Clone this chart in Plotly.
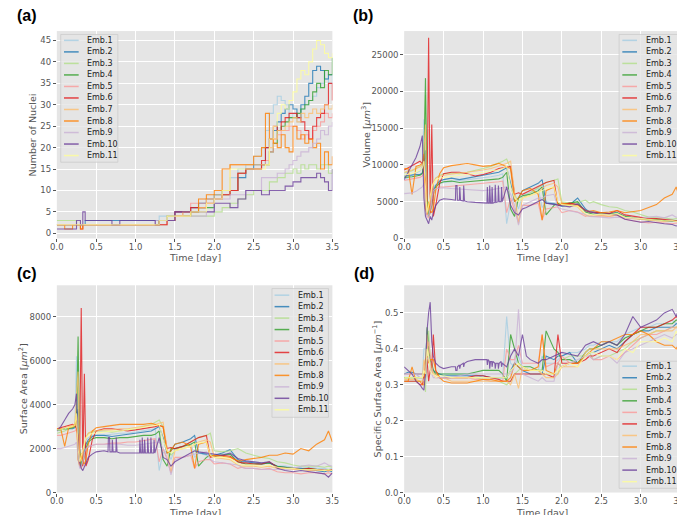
import plotly.graph_objects as go

NAMES = ["Emb.1", "Emb.2", "Emb.3", "Emb.4", "Emb.5", "Emb.6", "Emb.7", "Emb.8", "Emb.9", "Emb.10", "Emb.11"]
COLORS = ['#a6cee3', '#1f78b4', '#b2df8a', '#33a02c', '#fb9a99', '#e31a1c',
          '#fdbf6f', '#ff7f00', '#cab2d6', '#6a3d9a', '#ffff99']

# ---- (a) number of nuclei ----
NUC_T = [0, 0.1, 0.2, 0.25, 0.3, 0.33, 0.36, 0.4, 0.6, 0.7, 0.8, 1.0, 1.2, 1.25, 1.3, 1.4, 1.5, 1.6, 1.7, 1.8,
         1.9, 2.0, 2.1, 2.2, 2.3, 2.4, 2.5, 2.6, 2.65, 2.7, 2.75, 2.8, 2.85, 2.9, 2.95, 3.0, 3.05, 3.1, 3.15,
         3.2, 3.25, 3.3, 3.35, 3.4, 3.45, 3.5]
NUC = [
    [2,2,2,2,2, 2,2,2,2,2, 2,2,2,2,4, 4,4,5,6,7, 8,9,10,13,15, 16,18,20,24,28, 30,32,31,30,27, 28,26,29,30,31, 32,34,35,36,35, 37],
    [2,2,2,2,2, 2,3,3,3,3, 3,3,3,3,3, 4,5,5,6,7, 8,9,10,10,13, 15,16,16,20,22, 24,26,28,29,30, 29,27,30,32,35, 38,39,38,36,37, 37],
    [3,3,3,2,2, 2,2,2,2,2, 2,2,2,2,2, 3,4,4,4,4, 4,5,6,7,8, 9,10,10,10,12, 12,13,13,14,14, 15,14,16,15,16, 16,15,16,16,14, 15],
    [2,2,2,2,2, 2,2,2,2,2, 2,2,2,2,3, 3,4,4,5,6, 6,8,9,10,14, 15,15,16,16,19, 21,24,25,26,27, 27,28,29,30,31, 33,35,34,38,37, 41],
    [2,2,2,2,2, 2,2,2,2,2, 2,2,2,2,2, 3,4,5,7,7, 8,8,9,10,14, 15,15,16,17,19, 22,23,24,24,25, 25,24,22,23,22, 24,25,26,28,27, 28],
    [2,2,2,2,1, 2,2,2,2,2, 2,2,2,2,2, 3,5,5,6,6, 7,8,9,10,14, 15,15,17,20,22, 25,24,26,27,28, 28,27,26,24,22, 25,27,28,30,35, 31],
    [2,2,2,2,2, 2,2,2,2,2, 2,2,2,2,3, 4,4,5,5,6, 8,9,10,16,16, 16,16,16,16,20, 22,24,24,25,26, 27,26,28,27,28, 29,28,29,30,29, 30],
    [2,1,2,2,1, 2,2,2,2,2, 2,2,2,2,3, 3,4,4,5,8, 9,10,15,16,16, 16,18,20,28,22, 21,20,23,20,19, 25,22,23,21,22, 20,21,15,19,16, 18],
    [2,2,2,2,2, 2,2,2,2,2, 2,2,2,3,3, 3,4,4,4,4, 5,8,8,9,9, 10,10,13,13,13, 13,14,14,15,16, 17,18,19,19,20, 21,22,24,23,25, 26],
    [1,1,1,3,2, 5,3,3,3,2, 3,3,3,2,3, 3,5,5,5,5, 5,7,7,6,8, 10,10,9,9,10, 10,10,10,11,11, 12,12,13,13,13, 13,14,13,12,10, 15],
    [2,2,2,2,2, 2,2,2,2,2, 2,2,2,2,3, 4,4,4,5,5, 7,8,10,15,15, 15,15,15,16,22, 25,28,30,29,31, 33,36,38,37,40, 43,45,44,42,41, 42],
]

# ---- shared time grid for (b), (c), (d) ----
GRID_T = [0, 0.05, 0.1, 0.15, 0.2, 0.23, 0.25, 0.27, 0.29, 0.31, 0.33, 0.35, 0.37, 0.4, 0.45, 0.5, 0.6, 0.7,
          0.8, 0.9, 1.0, 1.1, 1.2, 1.25, 1.3, 1.35, 1.4, 1.45, 1.5, 1.6, 1.7, 1.75, 1.8, 1.9, 1.95, 2.0, 2.1,
          2.2, 2.3, 2.35, 2.4, 2.5, 2.6, 2.7, 2.8, 2.9, 3.0, 3.1, 3.2, 3.3, 3.4, 3.45, 3.5]
# Emb.10 has its own, denser time grid
EMB10_T = [0, 0.05, 0.1, 0.15, 0.2, 0.23, 0.25, 0.27, 0.29, 0.31, 0.33, 0.35, 0.37, 0.4, 0.45, 0.5, 0.6, 0.65,
           0.655, 0.67, 0.675, 0.7, 0.705, 0.715, 0.75, 0.755, 0.765, 0.8, 0.9, 1.0, 1.05, 1.055, 1.065, 1.08,
           1.085, 1.095, 1.11, 1.115, 1.125, 1.15, 1.155, 1.165, 1.19, 1.195, 1.205, 1.23, 1.235, 1.245, 1.3,
           1.35, 1.4, 1.45, 1.5, 1.55, 1.6, 1.7, 1.75, 1.8, 1.9, 2.0, 2.1, 2.2, 2.3, 2.4, 2.5, 2.6, 2.7, 2.8,
           2.9, 3.0, 3.1, 3.2, 3.3, 3.4, 3.45, 3.5]

# ---- (b) volume, in thousands of um^3 ----
VOL_K = [
    [8.0,8.3,8.6,8.8,9.2, 9.8,16.2,4.0,3.5,4.5, 5.5,6.5,7.0,7.3,7.5, 7.6,7.8,7.9,8.0,8.1, 8.3,8.4,8.6,8.8,2.0, 5.0,5.5,4.0,5.8,6.3, 6.8,4.2,5.0,4.8,4.5, 4.4,4.6,4.8,3.5,3.8, 3.6,3.5,3.4,3.6,3.0, 2.9,2.7,2.6,2.7,2.5, 2.6,2.4,2.5],
    [8.5,8.6,8.6,8.7,8.7, 8.9,10.0,12.0,4.5,3.5, 4.0,5.5,6.5,7.2,7.8, 8.0,8.2,8.0,8.2,8.4, 8.6,8.8,9.0,9.3,9.6, 7.5,5.0,5.5,6.5,7.0, 7.5,8.0,4.8,4.7,4.5, 4.4,4.6,5.5,4.0,3.6, 3.6,3.5,3.4,3.5,3.0, 2.8,2.7,2.6,2.5,2.4, 2.3,2.4,2.2],
    [8.9,9.0,9.2,9.5,9.8, 10.0,11.0,19.5,5.0,3.2, 4.5,6.5,7.5,8.2,8.6, 8.8,8.9,8.8,9.0,9.2, 9.5,9.8,10.2,10.5,10.8, 9.5,6.0,5.0,5.5,6.2, 6.8,7.2,7.6,7.9,8.1, 5.0,4.8,4.9,5.2,4.8, 5.0,4.6,4.3,4.2,3.8, 3.6,3.2,2.9,2.8,2.8, 2.6,2.7,2.6],
    [8.3,8.3,8.4,8.5,8.6, 8.8,10.0,21.8,6.0,3.0, 3.5,4.5,6.0,7.0,7.5, 7.7,7.8,7.6,7.7,7.8, 7.9,8.0,8.1,8.3,9.0, 4.0,3.0,5.5,5.8,6.0, 6.5,7.0,3.2,4.5,4.8, 4.6,4.8,5.0,3.6,3.5, 3.3,3.4,3.3,3.5,3.0, 2.8,2.6,2.5,2.6,2.4, 2.4,2.3,2.3],
    [7.9,8.0,8.1,8.2,8.3, 8.5,9.0,6.0,3.0,2.8, 3.5,5.0,6.0,6.7,7.0, 7.0,7.1,7.2,7.2,7.3, 7.4,7.5,7.7,7.8,3.5, 5.5,4.0,2.2,4.5,4.5, 4.8,2.5,4.0,4.2,4.3, 3.5,3.8,3.6,3.0,3.2, 3.0,3.1,3.0,3.2,2.6, 2.4,2.2,2.1,2.2,2.1, 2.0,2.1,2.0],
    [9.3,9.6,10.0,10.2,10.5, 10.2,9.0,8.0,5.0,27.3, 3.5,15.5,3.0,4.5,7.5, 8.8,9.0,9.0,8.8,8.5, 8.7,9.0,9.5,9.6,9.8, 9.8,6.0,6.2,6.0,6.5, 7.0,7.3,7.6,7.9,4.5, 4.6,4.8,4.6,3.8,3.6, 3.6,3.5,3.4,3.8,3.2, 3.0,2.9,2.7,2.7,2.6, 2.5,2.4,2.6],
    [9.0,9.1,9.3,9.5,9.7, 10.0,12.0,15.5,3.2,4.0, 5.0,6.5,7.5,8.2,8.5, 8.6,8.8,8.9,9.0,9.1, 9.3,9.5,9.8,10.0,10.2, 10.5,6.0,2.0,5.5,5.8, 6.2,6.8,7.2,7.5,7.0, 4.6,4.4,4.3,3.2,3.0, 3.0,3.1,3.0,3.2,2.8, 2.7,2.5,2.5,2.4,2.3, 2.4,2.3,2.3],
    [9.5,9.5,6.0,9.8,10.0, 10.2,11.5,4.0,3.2,5.0, 3.8,3.5,4.0,6.5,8.8, 9.6,9.9,10.1,10.2,10.0, 9.8,9.9,10.2,10.0,9.8, 9.5,5.0,5.5,6.5,6.8, 6.0,2.5,6.5,7.0,4.5, 4.8,4.6,4.5,3.8,3.7, 3.8,3.5,3.6,3.8,3.5, 3.7,3.8,4.2,4.6,5.5, 6.0,7.0,5.3],
    [6.1,6.1,6.2,6.4,6.8, 7.0,7.5,5.0,3.0,3.2, 4.0,5.5,6.5,6.8,6.9, 6.9,6.8,6.7,6.6,6.5, 6.5,6.6,6.8,6.9,7.0, 6.0,4.5,1.8,4.5,5.0, 5.5,5.5,5.8,6.0,4.2, 4.0,3.8,3.5,3.3,3.0, 3.0,2.9,2.8,2.9,2.8, 2.7,2.7,2.9,3.0,2.8, 3.2,2.9,2.8],
    [8.0,9.0,10.0,11.0,12.5, 14.0,5.5,3.0,2.5,2.0, 3.0,2.5,3.5,4.5,5.2, 5.4,5.3,5.2,7.2,7.2, 5.2,5.2,7.0,5.2,5.1, 7.2,5.1,5.0,4.9,4.8, 4.8,7.0,4.8,4.8,7.2, 4.8,4.8,7.0,4.8,4.9, 7.3,4.9,5.0,7.2,5.0, 5.0,7.0,5.0,7.0,4.5, 3.5,3.2,4.0,4.2,4.5, 5.0,5.3,4.8,4.6,4.4, 4.3,4.7,3.8,3.5,3.3, 3.3,3.2,2.6,2.4,2.2, 2.3,2.1,2.0,1.9,1.7, 1.8],
    [8.6,8.7,8.9,9.0,9.3, 9.6,10.5,6.0,3.5,4.5, 6.0,7.0,7.5,8.0,8.2, 8.3,8.5,8.6,8.7,8.8, 9.0,9.2,9.3,9.5,9.8, 7.0,5.5,5.0,5.5,5.8, 6.2,6.5,6.8,7.0,5.0, 4.6,4.5,4.4,3.4,3.2, 3.2,3.3,3.2,3.4,2.9, 2.8,2.6,2.5,2.5,2.4, 2.4,2.3,2.4],
]

# ---- (c) surface area, in thousands of um^2 ----
AREA_K = [
    [2.8,2.85,2.9,2.95,3.0, 3.1,6.2,1.5,1.3,1.6, 1.9,2.2,2.4,2.5,2.6, 2.6,2.6,2.65,2.7,2.7, 2.75,2.8,2.85,2.9,1.0, 1.8,1.9,1.5,2.0,2.1, 2.3,1.6,1.8,1.7,1.7, 1.7,1.75,1.8,1.4,1.45, 1.4,1.4,1.35,1.4,1.2, 1.2,1.15,1.1,1.15,1.1, 1.1,1.05,1.1],
    [2.85,2.85,2.9,2.9,2.9, 2.95,3.3,3.8,1.6,1.3, 1.5,1.9,2.2,2.4,2.55, 2.6,2.6,2.55,2.6,2.65, 2.7,2.75,2.8,2.9,3.0, 2.5,1.8,1.9,2.2,2.3, 2.45,2.6,1.8,1.75,1.7, 1.7,1.8,1.95,1.5,1.4, 1.4,1.35,1.3,1.35,1.2, 1.15,1.1,1.1,1.05,1.0, 0.95,1.0,0.95],
    [2.7,2.75,2.8,2.9,3.0, 3.05,3.5,5.5,1.6,1.2, 1.6,2.2,2.5,2.7,2.75, 2.8,2.8,2.75,2.8,2.85, 2.9,3.0,3.1,3.2,3.3, 3.0,1.9,1.7,1.9,2.1, 2.3,2.4,2.5,2.6,2.7, 1.9,1.85,1.9,2.0,1.9, 1.8,1.7,1.6,1.55,1.4, 1.35,1.25,1.2,1.2,1.2, 1.15,1.2,1.15],
    [2.85,2.85,2.9,2.9,2.95, 3.0,3.3,7.1,2.0,1.2, 1.3,1.6,2.0,2.3,2.45, 2.5,2.5,2.45,2.5,2.5, 2.55,2.6,2.6,2.65,2.8, 1.5,1.2,2.0,2.0,2.1, 2.2,2.3,1.2,1.6,1.7, 1.65,1.7,1.75,1.4,1.35, 1.3,1.3,1.3,1.35,1.2, 1.15,1.1,1.05,1.1,1.05, 1.0,1.05,1.0],
    [2.6,2.6,2.65,2.7,2.75, 2.8,2.9,2.0,1.2,1.1, 1.3,1.7,1.9,2.1,2.15, 2.2,2.2,2.25,2.25,2.3, 2.3,2.35,2.4,2.45,1.4, 2.0,1.5,0.9,1.6,1.6, 1.7,1.1,1.4,1.5,1.5, 1.3,1.35,1.3,1.1,1.15, 1.1,1.1,1.05,1.1,0.95, 0.9,0.9,0.85,0.9,0.9, 0.85,0.9,0.85],
    [2.9,2.95,3.0,3.05,3.1, 3.05,2.9,2.6,1.8,8.4, 1.2,5.4,1.2,1.5,2.4, 2.8,2.9,2.9,2.85,2.8, 2.85,2.9,2.95,3.0,3.05, 3.0,2.0,2.05,2.0,2.1, 2.3,2.4,2.5,2.6,1.6, 1.65,1.7,1.65,1.4,1.35, 1.35,1.3,1.3,1.4,1.15, 1.1,1.1,1.05,1.1,1.05, 1.0,1.0,1.05],
    [2.9,2.9,2.95,3.0,3.05, 3.1,4.5,5.5,1.4,1.5, 1.8,2.2,2.5,2.7,2.8, 2.8,2.85,2.85,2.9,2.9, 2.95,3.0,3.05,3.1,3.15, 3.2,2.0,0.9,1.9,2.0, 2.1,2.2,2.3,2.4,2.3, 1.6,1.55,1.5,1.25,1.2, 1.2,1.2,1.15,1.2,1.1, 1.1,1.05,1.05,1.0,1.0, 1.0,1.0,1.0],
    [2.9,2.9,2.1,2.95,3.0, 3.05,3.5,1.5,1.2,1.8, 1.4,1.3,1.5,2.2,2.8, 2.95,3.0,3.05,3.1,3.1, 3.1,3.1,3.15,3.1,3.05, 3.0,1.8,1.9,2.2,2.3, 2.1,1.1,2.2,2.3,1.65, 1.7,1.65,1.6,1.45,1.45, 1.5,1.55,1.6,1.7,1.7, 1.8,1.75,2.0,1.9,2.2, 2.4,2.8,2.3],
    [2.0,2.0,2.05,2.1,2.15, 2.2,2.3,1.6,1.1,1.2, 1.4,1.8,2.0,2.1,2.15, 2.2,2.2,2.2,2.2,2.15, 2.15,2.2,2.25,2.3,2.3, 2.0,1.6,0.8,1.5,1.6, 1.7,1.75,1.8,1.85,1.5, 1.4,1.35,1.3,1.25,1.15, 1.1,1.1,1.05,1.05,1.05, 1.05,1.1,1.2,1.25,1.2, 1.35,1.25,1.2],
    [2.8,3.0,3.3,3.6,3.8, 4.0,4.5,2.0,1.4,1.1, 1.0,1.2,1.4,1.6,1.75, 1.85,1.9,1.85,2.5,2.5, 1.85,1.85,2.4,1.85,1.85, 2.5,1.85,1.8,1.8,1.8, 1.8,2.4,1.8,1.8,2.5, 1.8,1.8,2.4,1.8,1.8, 2.5,1.8,1.8,2.5,1.8, 1.8,2.4,1.8,2.5,1.6, 1.5,1.2,1.4,1.5,1.6, 1.8,1.9,1.85,1.8,1.75, 1.7,1.8,1.55,1.45,1.4, 1.35,1.4,1.1,1.0,0.95, 1.0,0.95,0.9,0.85,0.7, 0.9],
    [2.85,2.85,2.9,2.95,3.0, 3.05,3.6,2.0,1.4,1.7, 2.0,2.3,2.5,2.6,2.7, 2.7,2.75,2.8,2.8,2.85, 2.9,2.95,3.0,3.05,3.1, 2.4,1.9,1.8,1.9,2.0, 2.1,2.2,2.25,2.3,1.7, 1.6,1.6,1.55,1.3,1.25, 1.25,1.25,1.2,1.25,1.15, 1.1,1.1,1.05,1.05,1.05, 1.0,1.05,1.0],
]

# ---- (d) specific surface area, um^-1 ----
SSA = [
    [0.33,0.33,0.33,0.33,0.32, 0.32,0.40,0.40,0.43,0.37, 0.35,0.34,0.33,0.33,0.33, 0.33,0.33,0.33,0.33,0.33, 0.32,0.32,0.32,0.32,0.49, 0.36,0.35,0.38,0.35,0.34, 0.34,0.38,0.36,0.36,0.37, 0.38,0.39,0.39,0.40,0.41, 0.41,0.42,0.42,0.42,0.44, 0.45,0.46,0.46,0.47,0.47, 0.48,0.47,0.48],
    [0.33,0.335,0.335,0.33,0.33, 0.33,0.33,0.32,0.36,0.38, 0.37,0.35,0.34,0.335,0.33, 0.325,0.325,0.325,0.325,0.325, 0.325,0.32,0.32,0.32,0.32, 0.34,0.36,0.35,0.34,0.33, 0.33,0.33,0.38,0.37,0.38, 0.38,0.39,0.36,0.38,0.39, 0.39,0.40,0.41,0.40,0.42, 0.44,0.45,0.45,0.46,0.46, 0.46,0.47,0.47],
    [0.31,0.31,0.31,0.31,0.31, 0.31,0.32,0.28,0.40,0.45, 0.38,0.34,0.33,0.33,0.32, 0.32,0.32,0.32,0.32,0.32, 0.315,0.31,0.31,0.305,0.30, 0.31,0.33,0.34,0.35,0.34, 0.34,0.33,0.33,0.33,0.33, 0.37,0.38,0.38,0.38,0.39, 0.37,0.38,0.38,0.39,0.40, 0.42,0.43,0.44,0.45,0.45, 0.46,0.46,0.47],
    [0.32,0.32,0.32,0.32,0.32, 0.32,0.32,0.33,0.46,0.40, 0.37,0.36,0.34,0.33,0.33, 0.33,0.33,0.33,0.33,0.335, 0.34,0.34,0.34,0.33,0.31, 0.44,0.40,0.36,0.35,0.35, 0.34,0.34,0.45,0.40,0.39, 0.37,0.37,0.36,0.39,0.40, 0.40,0.41,0.42,0.41,0.43, 0.44,0.45,0.46,0.46,0.47, 0.47,0.48,0.48],
    [0.33,0.33,0.33,0.33,0.33, 0.33,0.32,0.33,0.40,0.42, 0.38,0.35,0.33,0.32,0.32, 0.32,0.32,0.32,0.32,0.315, 0.315,0.31,0.31,0.31,0.40, 0.37,0.37,0.41,0.36,0.36, 0.36,0.44,0.35,0.36,0.36, 0.38,0.36,0.36,0.37,0.38, 0.37,0.37,0.38,0.37,0.39, 0.41,0.43,0.44,0.44,0.45, 0.46,0.46,0.46],
    [0.31,0.31,0.31,0.31,0.30, 0.30,0.32,0.33,0.37,0.31, 0.34,0.35,0.44,0.34,0.32, 0.32,0.32,0.32,0.32,0.325, 0.325,0.32,0.315,0.31,0.31, 0.31,0.33,0.33,0.33,0.33, 0.33,0.33,0.33,0.32,0.44, 0.36,0.36,0.36,0.37,0.38, 0.38,0.39,0.40,0.39,0.42, 0.44,0.46,0.46,0.46,0.47, 0.48,0.49,0.48],
    [0.315,0.315,0.315,0.315,0.31, 0.31,0.37,0.35,0.44,0.37, 0.36,0.34,0.33,0.33,0.32, 0.32,0.31,0.31,0.31,0.31, 0.31,0.31,0.31,0.31,0.31, 0.30,0.33,0.29,0.35,0.34, 0.34,0.33,0.32,0.32,0.33, 0.35,0.35,0.35,0.39,0.40, 0.40,0.40,0.40,0.40,0.41, 0.42,0.44,0.44,0.45,0.45, 0.45,0.46,0.45],
    [0.31,0.31,0.35,0.31,0.31, 0.30,0.30,0.37,0.38,0.36, 0.37,0.37,0.37,0.34,0.32, 0.31,0.305,0.305,0.305,0.31, 0.315,0.315,0.31,0.31,0.31, 0.32,0.36,0.35,0.34,0.34, 0.35,0.44,0.34,0.33,0.36, 0.35,0.36,0.36,0.38,0.39, 0.40,0.42,0.42,0.43,0.44, 0.44,0.45,0.44,0.42,0.41, 0.41,0.40,0.42],
    [0.33,0.33,0.33,0.33,0.32, 0.32,0.31,0.32,0.37,0.38, 0.35,0.33,0.32,0.32,0.32, 0.32,0.32,0.325,0.33,0.33, 0.33,0.33,0.33,0.33,0.33, 0.33,0.35,0.51,0.33,0.32, 0.31,0.32,0.31,0.31,0.36, 0.35,0.36,0.37,0.38,0.38, 0.37,0.38,0.38,0.36,0.39, 0.40,0.41,0.42,0.43,0.44, 0.43,0.44,0.44],
    [0.35,0.34,0.33,0.31,0.30, 0.29,0.285,0.33,0.45,0.50, 0.53,0.42,0.38,0.36,0.35, 0.345,0.35,0.35,0.34,0.34, 0.35,0.355,0.345,0.355,0.36, 0.35,0.36,0.365,0.37,0.37, 0.37,0.355,0.37,0.365,0.345, 0.365,0.365,0.35,0.365,0.36, 0.345,0.36,0.36,0.345,0.36, 0.365,0.35,0.36,0.35,0.38, 0.40,0.38,0.44,0.38,0.37, 0.36,0.37,0.37,0.38,0.39, 0.385,0.38,0.41,0.42,0.41, 0.42,0.41,0.44,0.49,0.46, 0.47,0.48,0.50,0.51,0.49, 0.52],
    [0.32,0.32,0.32,0.32,0.32, 0.32,0.34,0.33,0.40,0.38, 0.34,0.33,0.33,0.32,0.325, 0.325,0.32,0.32,0.32,0.32, 0.32,0.32,0.32,0.32,0.32, 0.34,0.35,0.36,0.35,0.34, 0.34,0.34,0.33,0.33,0.34, 0.35,0.36,0.35,0.38,0.39, 0.39,0.38,0.38,0.37,0.40, 0.39,0.42,0.42,0.42,0.43, 0.42,0.45,0.42],
]

X_TICKS = [0.0, 0.5, 1.0, 1.5, 2.0, 2.5, 3.0, 3.5]
X_TITLE = "Time [day]"
Y_TITLES = ["Number of Nuclei", "Volume [<i>μm</i><sup>3</sup>]", "Surface Area [<i>μm</i><sup>2</sup>]",
            "Specific Surface Area [<i>μm</i><sup>−1</sup>]"]

W, H = 685, 515
def px(x): return x / W
def py(y): return 1 - y / H

fig = go.Figure()

def times_for(i):
    return EMB10_T if i == 9 else GRID_T

LW, OP = 1.1, 0.8
for i in range(11):
    fig.add_trace(go.Scatter(x=NUC_T, y=NUC[i], mode="lines", line=dict(color=COLORS[i], width=LW, shape="hv"),
                             opacity=OP, name=NAMES[i], showlegend=False, xaxis="x", yaxis="y"))
for i in range(11):
    fig.add_trace(go.Scatter(x=times_for(i), y=[v * 1000 for v in VOL_K[i]], mode="lines",
                             line=dict(color=COLORS[i], width=LW), opacity=OP, name=NAMES[i],
                             showlegend=False, xaxis="x2", yaxis="y2"))
for i in range(11):
    fig.add_trace(go.Scatter(x=times_for(i), y=[v * 1000 for v in AREA_K[i]], mode="lines",
                             line=dict(color=COLORS[i], width=LW), opacity=OP, name=NAMES[i],
                             showlegend=False, xaxis="x3", yaxis="y3"))
for i in range(11):
    fig.add_trace(go.Scatter(x=times_for(i), y=SSA[i], mode="lines",
                             line=dict(color=COLORS[i], width=LW), opacity=OP, name=NAMES[i],
                             showlegend=False, xaxis="x4", yaxis="y4"))

TICKFONT = dict(family="DejaVu Sans", size=8.5, color="#555555")
TITLEFONT = dict(family="DejaVu Sans", size=9.5, color="#555555")

def xaxis(domain, anchor):
    return dict(domain=domain, anchor=anchor, range=[0, 3.5], tickvals=X_TICKS, tickformat=".1f",
                showgrid=True, gridcolor="white", gridwidth=1, zeroline=False, showline=False,
                ticks="outside", ticklen=3, tickcolor="#555555", tickfont=TICKFONT,
                ticklabelstandoff=-3)

def yaxis(domain, anchor, rng, tickvals, fmt):
    return dict(domain=domain, anchor=anchor, range=rng, tickvals=tickvals, tickformat=fmt,
                showgrid=True, gridcolor="white", gridwidth=1, zeroline=False, showline=False,
                ticks="outside", ticklen=3, tickcolor="#555555", tickfont=TICKFONT)

XL = [px(42.7), px(324)]
XR = [px(397.3), px(679)]
YT = [py(232.7), py(23.3)]
YB = [py(489.3), py(280)]

fig.update_layout(
    width=W, height=H, autosize=False, margin=dict(l=0, r=0, t=0, b=0),
    paper_bgcolor="white", plot_bgcolor="#E5E5E5", showlegend=False,
    xaxis=xaxis(XL, "y"),
    yaxis=yaxis(YT, "x", [-1.2, 47.2], [0, 5, 10, 15, 20, 25, 30, 35, 40, 45], "d"),
    xaxis2=xaxis(XR, "y2"),
    yaxis2=yaxis(YT, "x2", [0, 28200], [0, 5000, 10000, 15000, 20000, 25000], "d"),
    xaxis3=xaxis(XL, "y3"),
    yaxis3=yaxis(YB, "x3", [0, 9430], [0, 2000, 4000, 6000, 8000], "d"),
    xaxis4=xaxis(XR, "y4"),
    yaxis4=yaxis(YB, "x4", [0, 0.577], [0, 0.1, 0.2, 0.3, 0.4, 0.5], ".1f"),
)

shapes = []
annotations = []

# panel labels
for lab, x, y in [("(a)", 0, 8), ("(b)", 343, 8), ("(c)", 0, 268), ("(d)", 344, 268)]:
    annotations.append(dict(text="<b>%s</b>" % lab, x=px(x), y=py(y), xref="paper", yref="paper",
                            xanchor="left", yanchor="middle", showarrow=False,
                            font=dict(family="Liberation Sans", size=16, color="black")))

# axis titles
for cx, cy in [(183.4, 252), (538, 252), (183.4, 509), (538, 509)]:
    annotations.append(dict(text=X_TITLE, x=px(cx), y=py(cy), xref="paper", yref="paper",
                            xanchor="center", yanchor="middle", showarrow=False, font=TITLEFONT))
for k, (cx, cy) in enumerate([(18, 128), (358, 128), (8.5, 384.7), (370, 384.7)]):
    annotations.append(dict(text=Y_TITLES[k], x=px(cx), y=py(cy), xref="paper", yref="paper",
                            xanchor="center", yanchor="middle", showarrow=False, textangle=-90,
                            font=TITLEFONT))

# legends (drawn by hand to reproduce compact matplotlib legends)
LEGENDS = [
    (46.7, 26.7, 105.0, 155.7, 50, 65, 71.7, 32.7, 149.0),
    (616.7, 26.7, 678.3, 155.7, 620, 635, 641.7, 32.7, 149.0),
    (262.3, 283.3, 320.0, 413.3, 265, 280, 287.3, 290.0, 405.7),
    (616.7, 356.7, 678.3, 485.0, 620, 635, 641.7, 361.7, 478.3),
]
for (bl, bt, br, bb, lx0, lx1, tx, y0, y1) in LEGENDS:
    shapes.append(dict(type="rect", xref="paper", yref="paper", x0=px(bl), x1=px(br), y0=py(bb), y1=py(bt),
                       fillcolor="rgba(229,229,229,0.8)", line=dict(color="rgba(204,204,204,0.8)", width=1),
                       layer="above"))
    step = (y1 - y0) / 10
    for i in range(11):
        yy = y0 + i * step
        shapes.append(dict(type="line", xref="paper", yref="paper", x0=px(lx0), x1=px(lx1), y0=py(yy), y1=py(yy),
                           line=dict(color=COLORS[i], width=1.5), opacity=OP, layer="above"))
        annotations.append(dict(text=NAMES[i], x=px(tx), y=py(yy), xref="paper", yref="paper",
                                xanchor="left", yanchor="middle", showarrow=False,
                                font=dict(family="DejaVu Sans", size=8, color="#222222")))

fig.update_layout(shapes=shapes, annotations=annotations)
fig.write_html("out.html")
